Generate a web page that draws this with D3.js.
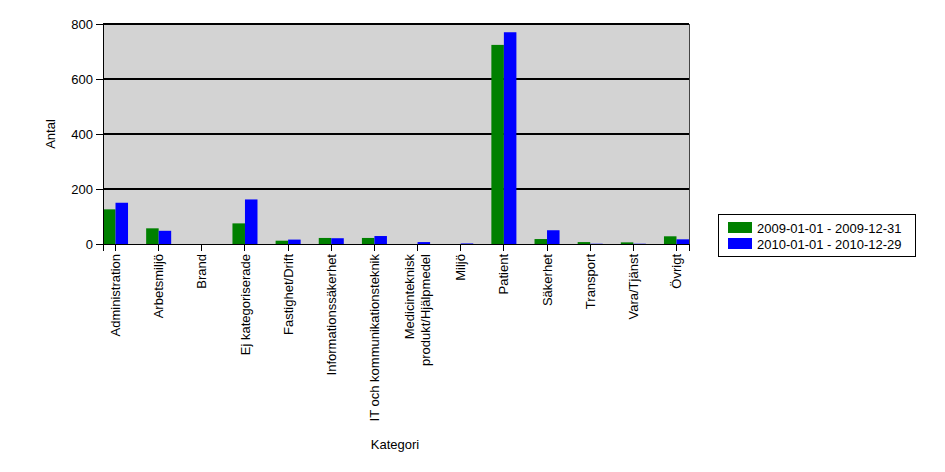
<!DOCTYPE html>
<html><head><meta charset="utf-8">
<script src="https://cdn.jsdelivr.net/npm/d3@7/dist/d3.min.js"></script>
<style>body{margin:0;background:#fff}text{font-family:"Liberation Sans",Arial,sans-serif}line,path{shape-rendering:crispEdges}</style>
</head><body><svg id="c" width="945" height="472"></svg>
<script>
const categories = ["Administration","Arbetsmiljö","Brand","Ej kategoriserade","Fastighet/Drift","Informationssäkerhet","IT och kommunikationsteknik","Medicinteknisk\nprodukt/Hjälpmedel","Miljö","Patient","Säkerhet","Transport","Vara/Tjänst","Övrigt"];
const series2009 = [126,57,0,75,12,22,22,0,0,724,18,7,6,28];
const series2010 = [150,48,0,162,16,21,29,7,2,770,50,1,1,17];
const seriesNames = ["2009-01-01 - 2009-12-31","2010-01-01 - 2010-12-29"];
const seriesColors = ["#008000","#0000ff"];
const yTicks = [0,200,400,600,800];

const svg = d3.select("#c");
const L=103,R=689,T=24,B=244;
const x = d3.scaleBand().domain(categories).range([L,R]).paddingInner(0.42).paddingOuter(0);
const x1 = d3.scaleBand().domain([0,1]).range([0,x.bandwidth()]);
const y = d3.scaleLinear().domain([0,800]).range([B,T]);

svg.append("rect").attr("x",L).attr("y",T).attr("width",R-L).attr("height",B-T).attr("fill","#d3d3d3");
svg.selectAll(".g").data(yTicks.filter(d=>d>0)).join("line")
  .attr("x1",L).attr("x2",R).attr("y1",d=>y(d)).attr("y2",d=>y(d)).attr("stroke","#000").attr("stroke-width",1.3);
svg.append("line").attr("x1",R).attr("x2",R).attr("y1",T).attr("y2",B).attr("stroke","#444");

const data = categories.map((c,i)=>({c,v:[series2009[i],series2010[i]]}));
const grp = svg.selectAll(".bar").data(data).join("g").attr("transform",d=>`translate(${x(d.c)},0)`);
grp.selectAll("rect").data(d=>d.v.map((v,k)=>({v,k}))).join("rect")
  .attr("x",d=>x1(d.k)).attr("width",x1.bandwidth())
  .attr("y",d=>y(d.v)).attr("height",d=>B-y(d.v)).attr("fill",d=>seriesColors[d.k]);

// y axis
const ya = svg.append("g").attr("transform",`translate(${L},0)`)
  .call(d3.axisLeft(y).tickValues(yTicks).tickSize(7).tickPadding(3));
ya.select(".domain").attr("stroke","#000").attr("stroke-width",1.3);
ya.selectAll("line").attr("stroke-width",1.3);
ya.selectAll("text").attr("font-size",13).attr("fill","#000").style("font-family","Liberation Sans, Arial");
// x axis
const xa = svg.append("g").attr("transform",`translate(0,${B})`)
  .call(d3.axisBottom(x).tickSize(7).tickFormat(""));
xa.select(".domain").attr("stroke","#000").attr("stroke-width",1.3);
xa.selectAll(".tick").each(function(d){
  const lines = d.split("\n");
  const t = d3.select(this).append("text").attr("transform","rotate(-90)")
    .attr("text-anchor","end").attr("font-size",13).attr("fill","#000");
  lines.forEach((ln,i)=>{
    t.append("tspan").attr("x",-10).attr("y",(i-(lines.length-1)/2)*16).attr("dy","0.35em").text(ln);
  });
});

svg.append("text").attr("transform","translate(55,134) rotate(-90)").attr("text-anchor","middle").attr("font-size",13).text("Antal");
svg.append("text").attr("x",395).attr("y",449).attr("text-anchor","middle").attr("font-size",13).text("Kategori");

// legend
const lg = svg.append("g");
lg.append("rect").attr("x",718.5).attr("y",214.5).attr("width",197).attr("height",42).attr("fill","#fff").attr("stroke","#000");
seriesNames.forEach((n,i)=>{
  lg.append("rect").attr("x",728).attr("y",222+i*16).attr("width",24).attr("height",11).attr("fill",seriesColors[i]);
  lg.append("text").attr("x",757).attr("y",228+i*16).attr("dy","0.35em").attr("font-size",13).text(n);
});
</script></body></html>
